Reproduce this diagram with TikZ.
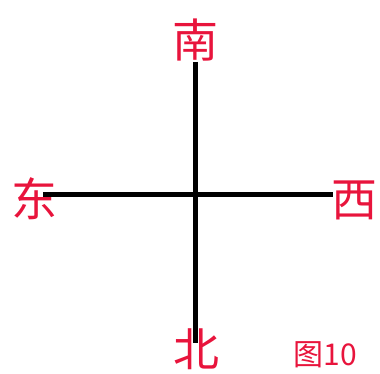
\documentclass[tikz,border=0pt]{standalone}
\usepackage{fontspec}
\newfontfamily\cjk{Noto Sans CJK SC}
\definecolor{dirred}{RGB}{232,20,60}
\begin{document}
\begin{tikzpicture}[x=1pt,y=-1pt,
  dirlabel/.style={text=dirred,font=\cjk\fontsize{46}{46}\selectfont,inner sep=0pt},
  figlabel/.style={text=dirred,font=\cjk\fontsize{30}{30}\selectfont,inner sep=0pt},
  axis/.style={line width=5pt,black}]
\useasboundingbox (0,0) rectangle (380,374);
\node[dirlabel] (s) at (195,40) {南};
\node[dirlabel] (e) at (34,199) {东};
\node[dirlabel] (w) at (354,200) {西};
\node[dirlabel] (n) at (196,349) {北};
\node[figlabel] (fig) at (325,355) {图10};
\coordinate (top) at (195,62);
\coordinate (bot) at (195,343);
\coordinate (left) at (43,195);
\coordinate (right) at (333,195);
\draw[axis] (left) -- (right);
\draw[axis] (top) -- (bot);
\end{tikzpicture}
\end{document}
